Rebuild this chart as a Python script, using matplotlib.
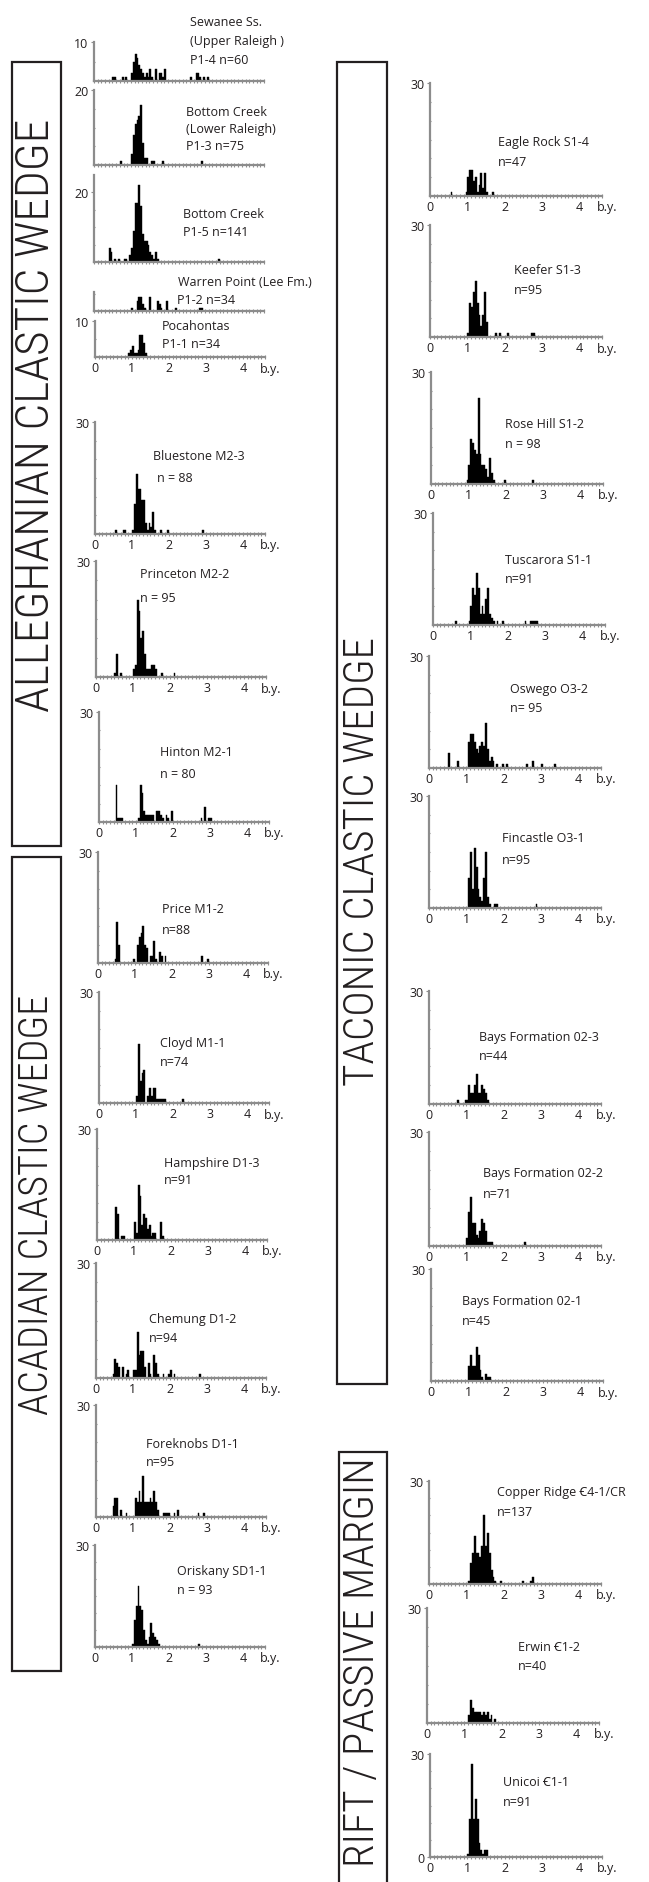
import numpy as np
import matplotlib
matplotlib.use('Agg')
import matplotlib.pyplot as plt
from matplotlib import font_manager
from matplotlib.patches import Rectangle

W, H = 649, 1883
GRAY = '#8c8c8c'
INK = '#231f20'
BIN = 0.05   # bin width, b.y.

# ---- left column: Alleghanian / Acadian wedges (bin left edge, count) ----
p1_4_age = [0.50, 0.55, 0.75, 0.85, 1.00, 1.05, 1.10, 1.15, 1.20, 1.25, 1.30, 1.35, 1.40, 1.45,
            1.50, 1.55, 1.65, 1.75, 1.80, 1.85, 1.90, 2.60, 2.75, 2.80, 2.85, 2.95, 3.05]
p1_4_cnt = [1, 1, 1, 1, 2, 5, 7, 6, 4, 3, 2, 1, 2, 1, 3, 1, 3, 2, 2, 1, 3, 1, 2, 2, 1, 1, 1]

p1_3_age = [0.70, 1.00, 1.05, 1.10, 1.15, 1.20, 1.25, 1.30, 1.35, 1.40, 1.55, 1.60, 1.85, 2.90]
p1_3_cnt = [1, 3, 8, 11, 12, 13, 16, 6, 2, 2, 1, 1, 1, 1]

p1_5_age = [0.40, 0.45, 0.55, 0.65, 0.80, 0.85, 0.95, 1.00, 1.05, 1.10, 1.15, 1.20, 1.25, 1.30,
            1.35, 1.40, 1.45, 1.50, 1.55, 1.60, 1.65, 1.70, 3.35]
p1_5_cnt = [4, 3, 1, 1, 1, 1, 2, 4, 9, 17, 17, 22, 16, 8, 6, 6, 5, 3, 2, 1, 3, 1, 1]

p1_2_age = [1.00, 1.15, 1.20, 1.25, 1.30, 1.35, 1.50, 1.70, 1.75, 1.80, 1.95, 2.20, 2.85, 2.90]
p1_2_cnt = [1, 3, 4, 4, 2, 1, 4, 3, 2, 1, 3, 1, 1, 1]

p1_1_age = [0.90, 0.95, 1.00, 1.05, 1.10, 1.15, 1.20, 1.25, 1.30, 1.35]
p1_1_cnt = [1, 2, 3, 1, 1, 2, 6, 6, 4, 1]

m2_3_age = [0.55, 0.75, 0.80, 1.00, 1.05, 1.10, 1.15, 1.20, 1.25, 1.30, 1.35, 1.40, 1.45, 1.50,
            1.55, 1.60, 1.75, 1.95, 2.90]
m2_3_cnt = [1, 1, 1, 1, 8, 16, 12, 12, 9, 9, 3, 1, 3, 2, 6, 1, 1, 1, 1]

m2_2_age = [0.50, 0.55, 0.65, 1.00, 1.05, 1.10, 1.15, 1.20, 1.25, 1.30, 1.35, 1.40, 1.45, 1.50,
            1.55, 1.60, 1.75, 2.10]
m2_2_cnt = [1, 6, 1, 2, 3, 20, 17, 10, 12, 6, 2, 2, 2, 3, 3, 2, 1, 1]

m2_1_age = [0.45, 0.50, 0.55, 0.60, 1.05, 1.10, 1.15, 1.20, 1.25, 1.30, 1.35, 1.40, 1.45, 1.55,
            1.60, 1.65, 1.70, 1.80, 1.85, 1.95, 2.75, 2.85, 2.95, 3.00]
m2_1_cnt = [10, 1, 1, 1, 1, 10, 8, 3, 2, 2, 2, 2, 2, 3, 3, 2, 1, 2, 1, 3, 1, 4, 1, 1]

m1_2_age = [0.45, 0.50, 0.55, 0.95, 1.05, 1.10, 1.15, 1.20, 1.25, 1.30, 1.40, 1.45, 1.50, 1.55,
            1.65, 1.70, 1.80, 2.80, 2.95]
m1_2_cnt = [1, 11, 5, 1, 5, 7, 8, 10, 5, 4, 2, 2, 6, 1, 3, 2, 2, 2, 1]

m1_1_age = [1.00, 1.05, 1.10, 1.15, 1.20, 1.30, 1.35, 1.40, 1.45, 1.50, 1.55, 1.60, 1.65, 1.70,
            1.75, 2.25]
m1_1_cnt = [2, 16, 6, 8, 9, 2, 4, 2, 4, 4, 1, 1, 1, 1, 1, 1]

d1_3_age = [0.50, 0.55, 0.65, 0.70, 1.00, 1.05, 1.10, 1.15, 1.20, 1.25, 1.30, 1.35, 1.40, 1.45,
            1.50, 1.55, 1.70, 1.75]
d1_3_cnt = [9, 7, 1, 1, 5, 2, 15, 12, 4, 7, 6, 3, 4, 1, 2, 2, 5, 1]

d1_2_age = [0.45, 0.50, 0.55, 0.60, 0.70, 0.80, 0.85, 1.00, 1.05, 1.10, 1.15, 1.20, 1.25, 1.30,
            1.40, 1.45, 1.55, 1.60, 1.65, 1.80, 1.95, 2.00, 2.10, 2.80]
d1_2_cnt = [1, 5, 4, 3, 3, 1, 2, 2, 2, 12, 6, 7, 7, 3, 4, 1, 6, 4, 1, 1, 1, 2, 1, 1]

d1_1_age = [0.45, 0.50, 0.55, 0.65, 0.80, 1.05, 1.10, 1.15, 1.20, 1.25, 1.30, 1.35, 1.40, 1.45,
            1.50, 1.55, 1.60, 1.65, 1.80, 1.85, 1.90, 1.95, 2.10, 2.20, 2.75, 2.90]
d1_1_cnt = [3, 5, 5, 2, 1, 5, 4, 7, 4, 11, 4, 4, 4, 5, 4, 7, 4, 2, 1, 1, 1, 1, 1, 2, 1, 1]

sd1_1_age = [1.00, 1.05, 1.10, 1.15, 1.20, 1.25, 1.30, 1.35, 1.40, 1.45, 1.50, 1.55, 1.60, 1.65,
             1.70, 2.80]
sd1_1_cnt = [1, 8, 12, 18, 12, 11, 5, 2, 1, 3, 7, 4, 3, 2, 1, 1]

# ---- right column: Taconic wedge and rift / passive margin ----
s1_4_age = [0.55, 0.95, 1.00, 1.05, 1.10, 1.15, 1.20, 1.25, 1.30, 1.35, 1.40, 1.45, 1.50, 1.65]
s1_4_cnt = [1, 1, 5, 7, 7, 4, 5, 1, 3, 6, 2, 6, 1, 1]

s1_3_age = [1.00, 1.05, 1.10, 1.15, 1.20, 1.25, 1.30, 1.35, 1.40, 1.45, 1.50, 1.75, 1.85, 2.05,
            2.70, 2.75]
s1_3_cnt = [1, 9, 8, 12, 15, 9, 6, 3, 6, 12, 4, 1, 1, 1, 1, 1]

s1_2_age = [0.95, 1.00, 1.05, 1.10, 1.15, 1.20, 1.25, 1.30, 1.35, 1.40, 1.45, 1.50, 1.55, 1.60,
            1.65, 1.95, 2.70]
s1_2_cnt = [1, 5, 12, 11, 9, 8, 23, 8, 5, 5, 4, 2, 7, 3, 1, 1, 1]

s1_1_age = [0.60, 0.95, 1.00, 1.05, 1.10, 1.15, 1.20, 1.25, 1.30, 1.35, 1.40, 1.45, 1.50, 1.55,
            1.60, 1.70, 1.85, 2.45, 2.60, 2.65, 2.70, 2.75]
s1_1_cnt = [1, 1, 5, 10, 8, 14, 10, 3, 5, 3, 7, 10, 3, 2, 1, 1, 1, 1, 1, 1, 1, 1]

o3_2_age = [0.50, 0.75, 1.05, 1.10, 1.15, 1.20, 1.25, 1.30, 1.35, 1.40, 1.45, 1.50, 1.55, 1.60,
            1.65, 1.70, 1.80, 1.95, 2.05, 2.60, 2.75, 3.00, 3.35]
o3_2_cnt = [4, 2, 7, 9, 9, 7, 5, 4, 6, 7, 6, 12, 5, 2, 3, 2, 1, 1, 1, 1, 2, 1, 1]

o3_1_age = [1.05, 1.10, 1.15, 1.20, 1.25, 1.30, 1.35, 1.40, 1.45, 1.50, 1.55, 1.60, 1.75, 1.80, 2.85]
o3_1_cnt = [8, 15, 5, 16, 11, 5, 3, 2, 8, 15, 3, 1, 1, 1, 1]

b02_3_age = [0.75, 0.95, 1.00, 1.05, 1.10, 1.15, 1.20, 1.25, 1.30, 1.35, 1.40, 1.45, 1.50, 1.55]
b02_3_cnt = [1, 1, 1, 5, 3, 3, 5, 8, 3, 3, 5, 4, 3, 1]

b02_2_age = [1.00, 1.05, 1.10, 1.15, 1.20, 1.25, 1.30, 1.35, 1.40, 1.45, 1.50, 1.55, 1.60, 1.65, 2.55]
b02_2_cnt = [2, 9, 13, 6, 6, 3, 2, 4, 7, 6, 4, 1, 1, 1, 1]

b02_1_age = [1.00, 1.05, 1.10, 1.15, 1.20, 1.25, 1.30, 1.35, 1.45, 1.50, 1.55]
b02_1_cnt = [4, 7, 4, 4, 9, 7, 3, 1, 2, 1, 1]

c4_1_age = [1.05, 1.10, 1.15, 1.20, 1.25, 1.30, 1.35, 1.40, 1.45, 1.50, 1.55, 1.60, 1.65, 1.70,
            1.75, 1.90, 2.50, 2.70, 2.75]
c4_1_cnt = [1, 6, 9, 14, 9, 9, 8, 11, 20, 11, 15, 9, 4, 2, 1, 1, 1, 1, 2]

c1_2_age = [1.10, 1.15, 1.20, 1.25, 1.30, 1.35, 1.40, 1.45, 1.50, 1.55, 1.60, 1.65, 1.70, 1.80]
c1_2_cnt = [2, 6, 4, 3, 3, 3, 3, 2, 3, 2, 3, 1, 2, 1]

c1_1_age = [1.00, 1.05, 1.10, 1.15, 1.20, 1.25, 1.30, 1.35, 1.40, 1.45, 1.50]
c1_1_cnt = [1, 11, 27, 11, 17, 11, 4, 2, 1, 2, 2]

x_ticks = [0, 1, 2, 3, 4]

installed = {f.name for f in font_manager.fontManager.ttflist}


def pick(*names):
    for n in names:
        if n in installed:
            return n
    return 'DejaVu Sans'


SMALL = [pick('Open Sans', 'Noto Sans'), 'Noto Sans', 'DejaVu Sans']
BIG = pick('Roboto Condensed', 'Liberation Sans Narrow', 'Roboto')
plt.rcParams['font.family'] = SMALL

fig = plt.figure(figsize=(W / 100, H / 100), dpi=100)


def ftext(x, y, s, **kw):
    # x, y in pixels from the top-left corner
    fig.text(x / W, 1 - y / H, s, **kw)


def panel(x0, top, base, ages, counts, ymax, ylab, lines, xlabels=True, zero=False, width=170):
    ax = fig.add_axes([x0 / W, 1 - base / H, width / W, (base - top) / H])
    ax.patch.set_visible(False)
    ax.bar(ages, counts, width=BIN, align='edge', color='black', edgecolor='black',
           linewidth=0.3, zorder=2)
    ax.set_xlim(0, 4.6)
    ax.set_ylim(0, ymax)
    for s in ('top', 'right'):
        ax.spines[s].set_visible(False)
    for s in ('left', 'bottom'):
        ax.spines[s].set_color(GRAY)
        ax.spines[s].set_linewidth(1.6)
        ax.spines[s].set_zorder(3)
    ax.set_xticks(x_ticks)
    ax.set_xticks(np.arange(0, 4.65, 0.1), minor=True)
    ax.tick_params(axis='x', which='both', direction='inout', length=2.2, width=0.8,
                   color=GRAY, labelsize=9, labelcolor=INK, pad=1.5, labelbottom=xlabels)
    yt = [0, ylab] if zero else ([ylab] if ylab else [])
    ax.set_yticks(yt)
    ax.set_yticks(np.arange(5, ymax, 5), minor=True)
    ax.tick_params(axis='y', which='major', direction='out', length=2.5, width=0.8,
                   color=GRAY, labelsize=9, labelcolor=INK, pad=1.5)
    ax.tick_params(axis='y', which='minor', direction='inout', length=2, width=0.8, color=GRAY)
    if xlabels:
        ftext(x0 + 4.75 * width / 4.6, base + 11, 'b.y.', fontsize=9, color=INK,
              ha='center', va='center')
    for s, tx, ty in lines:
        ftext(tx, ty, s, fontsize=9, color=INK, ha='left', va='center')
    return ax


# left column
panel(94, 43, 82, p1_4_age, p1_4_cnt, 10, 10,
      [("Sewanee Ss.", 190, 22), ("(Upper Raleigh )", 190, 42), ("P1-4 n=60", 190, 61)],
      xlabels=False)
panel(94, 91, 166, p1_3_age, p1_3_cnt, 20, 20,
      [("Bottom Creek", 186, 112), ("(Lower Raleigh)", 186, 129), ("P1-3 n=75", 186, 146)],
      xlabels=False)
panel(94, 176, 263, p1_5_age, p1_5_cnt, 25, 20,
      [("Bottom Creek", 183, 215), ("P1-5 n=141", 183, 233)], xlabels=False)
panel(94, 293, 312, p1_2_age, p1_2_cnt, 5.5, None,
      [("Warren Point (Lee Fm.)", 178, 283), ("P1-2 n=34", 177, 300)], xlabels=False)
panel(95, 322, 358, p1_1_age, p1_1_cnt, 10, 10,
      [("Pocahontas", 162, 327), ("P1-1 n=34", 162, 345)])
panel(95, 423, 535, m2_3_age, m2_3_cnt, 30, 30,
      [("Bluestone M2-3", 153, 457), ("n = 88", 157, 478)])
panel(96, 562, 678, m2_2_age, m2_2_cnt, 30, 30,
      [("Princeton M2-2", 140, 575), ("n = 95", 140, 599)])
panel(99, 713, 823, m2_1_age, m2_1_cnt, 30, 30,
      [("Hinton M2-1", 160, 753), ("n = 80", 160, 775)])
panel(98, 853, 964, m1_2_age, m1_2_cnt, 30, 30,
      [("Price M1-2", 162, 910), ("n=88", 162, 931)])
panel(99, 993, 1104, m1_1_age, m1_1_cnt, 30, 30,
      [("Cloyd M1-1", 160, 1043), ("n=74", 160, 1063)])
panel(97, 1130, 1241, d1_3_age, d1_3_cnt, 30, 30,
      [("Hampshire D1-3", 164, 1163), ("n=91", 164, 1181)])
panel(96, 1264, 1379, d1_2_age, d1_2_cnt, 30, 30,
      [("Chemung D1-2", 149, 1320), ("n=94", 149, 1339)])
panel(96, 1406, 1518, d1_1_age, d1_1_cnt, 30, 30,
      [("Foreknobs D1-1", 146, 1445), ("n=95", 146, 1463)])
panel(95, 1546, 1648, sd1_1_age, sd1_1_cnt, 30, 30,
      [("Oriskany SD1-1", 177, 1572), ("n = 93", 177, 1591)])

# right column
panel(430, 84, 197, s1_4_age, s1_4_cnt, 30, 30,
      [("Eagle Rock S1-4", 498, 143), ("n=47", 498, 162)], width=172)
panel(430, 226, 338, s1_3_age, s1_3_cnt, 30, 30,
      [("Keefer S1-3", 514, 271), ("n=95", 514, 290)], width=172)
panel(431, 373, 485, s1_2_age, s1_2_cnt, 30, 30,
      [("Rose Hill S1-2", 505, 424), ("n = 98", 505, 444)], width=172)
panel(433, 514, 626, s1_1_age, s1_1_cnt, 30, 30,
      [("Tuscarora S1-1", 505, 561), ("n=91", 505, 580)], width=172)
panel(429, 657, 769, o3_2_age, o3_2_cnt, 30, 30,
      [("Oswego O3-2", 510, 690), ("n= 95", 510, 709)], width=172)
panel(429, 797, 909, o3_1_age, o3_1_cnt, 30, 30,
      [("Fincastle O3-1", 502, 839), ("n=95", 502, 861)], width=172)
panel(429, 992, 1105, b02_3_age, b02_3_cnt, 30, 30,
      [("Bays Formation 02-3", 479, 1037), ("n=44", 479, 1056)], width=172)
panel(429, 1133, 1247, b02_2_age, b02_2_cnt, 30, 30,
      [("Bays Formation 02-2", 483, 1174), ("n=71", 483, 1194)], width=172)
panel(431, 1270, 1382, b02_1_age, b02_1_cnt, 30, 30,
      [("Bays Formation 02-1", 462, 1302), ("n=45", 462, 1322)], width=172)
panel(429, 1482, 1585, c4_1_age, c4_1_cnt, 30, 30,
      [("Copper Ridge \uA792" + "4-1/CR", 497, 1493), ("n=137", 497, 1512)], width=172)
panel(427, 1609, 1724, c1_2_age, c1_2_cnt, 30, 30,
      [("Erwin \uA792" + "1-2", 518, 1648), ("n=40", 518, 1667)], width=172)
panel(430, 1755, 1858, c1_1_age, c1_1_cnt, 30, 30,
      [("Unicoi \uA792" + "1-1", 503, 1783), ("n=91", 503, 1803)], width=172, zero=True)

# tectonic-setting boxes with rotated captions
boxes = [
    (12, 63, 61, 847, "ALLEGHANIAN CLASTIC WEDGE", 415, 34),
    (12, 858, 61, 1672, "ACADIAN CLASTIC WEDGE", 1205, 29),
    (337, 63, 387, 1385, "TACONIC CLASTIC WEDGE", 862, 31),
    (339, 1453, 387, 1910, "RIFT / PASSIVE MARGIN", 1662, 31),
]
for x1, y1, x2, y2, label, ty, size in boxes:
    fig.patches.append(Rectangle((x1 / W, 1 - y2 / H), (x2 - x1) / W, (y2 - y1) / H,
                                 transform=fig.transFigure, fill=False,
                                 edgecolor=INK, linewidth=1.6))
    ftext((x1 + x2) / 2, ty, label, rotation=90, ha='center', va='center',
          fontsize=size, color=INK, family=[BIG, 'DejaVu Sans'], fontweight='light')

fig.savefig('out.png', dpi=100)
